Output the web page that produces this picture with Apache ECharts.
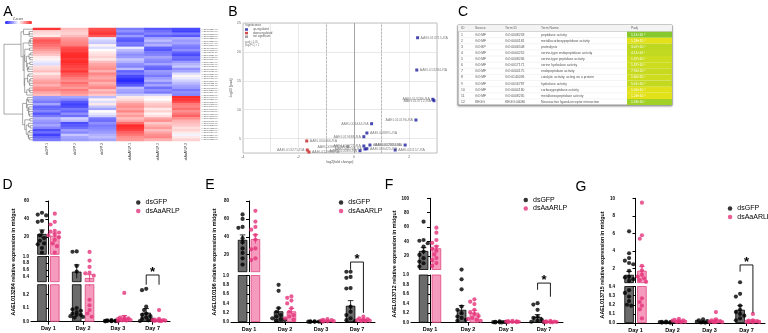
<!DOCTYPE html>
<html>
<head>
<meta charset="utf-8">
<script src="https://cdn.jsdelivr.net/npm/echarts@6/dist/echarts.min.js"></script>
<style>
  html, body { margin: 0; padding: 0; background: #fff; }
  #chart { width: 768px; height: 333px; }
</style>
</head>
<body>
<div id="chart"></div>
<script>
const FONT = '"Liberation Sans", Arial, sans-serif';

// ---------- A: heatmap of DEGs (z-scores) ----------
const heatCols = ['dsGFP-1', 'dsGFP-2', 'dsGFP-3', 'dsAaARLP-1', 'dsAaARLP-2', 'dsAaARLP-3'];
const heatGenes = [
  'AAEL013284-RA', 'AAEL010196-RA', 'AAEL013712-RA', 'AAEL013715-RA', 'AAEL013286-RA', 'AAEL002880-RA',
  'AAEL004444-RA', 'AAEL008891-RA', 'AAEL019688-RA', 'AAEL001702-RA', 'AAEL011157-RA', 'AAEL003721-RA',
  'AAEL006425-RA', 'AAEL012714-RA', 'AAEL007599-RA', 'AAEL010089-RA', 'AAEL005432-RA', 'AAEL014188-RA',
  'AAEL000931-RA', 'AAEL013627-RA', 'AAEL009524-RA', 'AAEL006161-RA', 'AAEL002610-RA', 'AAEL011332-RA',
  'AAEL004118-RA', 'AAEL015458-RA', 'AAEL008207-RA', 'AAEL003914-RA', 'AAEL012086-RA', 'AAEL000466-RA',
  'AAEL013271-RA', 'AAEL012980-RA', 'AAEL009872-RA', 'AAEL005641-RA', 'AAEL001693-RA', 'AAEL010773-RA',
  'AAEL014375-RA', 'AAEL007062-RA', 'AAEL002393-RA', 'AAEL011905-RA', 'AAEL006790-RA', 'AAEL013053-RA',
  'AAEL004855-RA', 'AAEL008516-RA', 'AAEL000174-RA', 'AAEL012347-RA', 'AAEL003368-RA', 'AAEL010537-RA'
];
const heatRows = [
  [1.8, 0.6, 1.6, -1.2, -1.5, -1.6], [0.4, 0.5, 1.7, -1.0, -1.3, -1.7], [0.3, 0.4, 1.8, -1.3, -1.1, -1.2],
  [0.2, 0.6, 1.5, -0.9, -1.4, -1.5], [1.2, 0.9, -0.2, -1.4, -0.8, -0.7], [1.5, 1.0, -0.4, -1.5, -0.6, -0.9],
  [1.4, 1.1, -0.5, -1.2, -0.9, -0.8], [1.3, 1.2, 0.1, -1.3, -0.7, -1.1], [1.1, 1.6, -0.3, -0.2, -1.4, -1.2],
  [0.9, 1.7, 0.0, -0.6, -1.5, -1.0], [0.7, 1.8, 0.2, -0.8, -1.2, -1.4], [0.5, 1.9, 0.3, -1.0, -1.1, -1.6],
  [0.2, 1.9, 0.4, -0.9, -0.8, -1.3], [0.1, 1.8, 0.2, -0.5, -1.0, -1.4], [-0.2, 1.9, 0.6, -0.7, -1.1, -0.9],
  [-0.3, 1.8, 0.8, -1.0, -0.8, -0.7], [0.3, 1.7, 0.9, -1.1, -1.3, -0.5], [0.4, 1.6, 1.0, -0.6, -1.4, -1.0],
  [0.6, 1.8, 0.7, -1.4, -0.9, -0.8], [0.2, 1.5, 1.1, -1.2, -1.0, -0.3], [0.5, 1.4, 0.9, -1.6, -1.2, 0.1],
  [0.6, 1.2, 0.8, -1.8, -0.9, -0.2], [0.8, 1.0, 1.0, -1.9, -0.7, -0.4], [0.9, 1.3, 0.7, -1.7, -1.1, -0.6],
  [0.7, 1.1, 0.9, -1.5, -0.8, -0.8], [1.0, 0.9, 1.1, -0.6, -1.3, -0.9], [1.1, 1.2, 0.6, -0.8, -1.0, -1.2],
  [0.8, 1.0, 0.8, -0.9, -1.2, -1.0], [0.6, 0.8, 0.5, -0.5, -0.4, -1.1],
  [-0.9, -0.8, -0.6, 0.2, 0.1, 1.9], [-1.0, -1.1, 0.1, 0.3, 0.0, 1.8], [-1.2, -1.5, -0.3, 0.6, 0.3, 1.6],
  [-0.8, -1.7, 0.2, 0.9, 0.5, 1.2], [-1.4, -1.6, -0.5, 1.0, 0.6, 1.1], [-1.3, -1.2, -0.8, 0.8, 0.2, 1.3],
  [-1.1, -1.4, 0.0, 1.1, 0.4, 1.0], [-1.5, -1.0, -0.2, 0.7, 0.1, 1.2], [-1.2, -1.3, -0.4, 0.9, 0.3, 1.4],
  [-0.7, -0.4, -1.2, 0.6, 0.8, 1.0], [-0.9, -0.6, -1.3, 0.8, 1.0, 0.7], [-1.0, -1.6, -1.0, 1.3, 0.5, 0.6],
  [-0.8, -1.5, -1.2, 1.9, 0.7, 0.5], [-1.1, -1.3, -1.1, 1.8, 0.9, 0.3], [-1.6, -0.9, -1.0, 1.7, 0.6, 0.4],
  [-1.3, -1.1, -0.9, 1.4, 0.8, 0.2], [-1.7, -0.5, -0.7, 1.2, 1.0, -0.1], [-1.4, -0.8, -0.6, 1.0, 1.1, 0.2],
  [-1.2, -0.9, -0.8, 0.9, 0.7, 0.4]
];

// ---------- B: volcano plot ----------
const upNames = ['AAEL013715-RA', 'AAEL013284-RA', 'AAEL013712-RA', 'AAEL013286-RA', 'AAEL010196-RA',
  'AAEL004444-RA', 'AAEL008891-RA', 'AAEL019688-RA', 'AAEL002880-RA', 'AAEL001702-RA', 'AAEL003721-RA',
  'AAEL006425-RA', 'AAEL007599-RA', 'AAEL010089-RA', 'AAEL011157-RA'];
const upX = [2.30, 2.27, 2.89, 2.85, 2.24, 0.64, 0.47, 0.36, 1.85, 0.58, 0.36, 0.47, 0.40, 0.22, 1.49];
const upY = [22.45, 16.86, 11.55, 11.8, 8.21, 7.57, 5.96, 5.32, 3.88, 3.88, 3.71, 3.24, 3.19, 2.9, 3.02];
const downNames = ['AAEL000466-RA', 'AAEL013271-RA', 'AAEL012980-RA'];
const downX = [-1.70, -1.68, -1.62];
const downY = [4.58, 3.02, 2.67];
const nsNames = ['AAEL009872-RA'];
const nsX = [-0.22];
const nsY = [3.59];

// ---------- C: enrichment table ----------
const goSources = ['GO:MF', 'GO:MF', 'GO:BP', 'GO:MF', 'GO:MF', 'GO:MF', 'GO:MF', 'GO:MF', 'GO:MF', 'GO:MF', 'GO:MF', 'KEGG'];
const goTermIds = ['GO:0008233', 'GO:0004181', 'GO:0006508', 'GO:0004252', 'GO:0008236', 'GO:0017171',
  'GO:0004175', 'GO:0140096', 'GO:0016787', 'GO:0004180', 'GO:0008235', 'KEGG:04080'];
const goTermNames = ['peptidase activity', 'metallocarboxypeptidase activity', 'proteolysis',
  'serine-type endopeptidase activity', 'serine-type peptidase activity', 'serine hydrolase activity',
  'endopeptidase activity', 'catalytic activity, acting on a protein', 'hydrolase activity',
  'carboxypeptidase activity', 'metalloexopeptidase activity', 'Neuroactive ligand-receptor interaction'];
const goPadj = [1.11e-8, 1.28e-4, 3.07e-6, 4.11e-6, 1.37e-5, 1.37e-5, 7.96e-6, 1.60e-5, 5.01e-6, 1.00e-4, 1.28e-4, 1.58e-7];

// ---------- D-G: qPCR ----------
const days = ['Day 1', 'Day 2', 'Day 3', 'Day 7'];

const dTicks = [[20, 40, 60], [0.4, 0.6, 0.8, 1.0], [0, 0.1, 0.2]];
const dGfpDots = [
  [47, 45, 44, 38, 37, 26, 22, 19, 16, 13, 12, 8, 3],
  [4.2, 3.8, 0.72, 0.55, 0.1, 0.09, 0.08, 0.07, 0.06, 0.05, 0.05, 0.04, 0.035, 0.03],
  [0.012, 0.01, 0.008, 0.007, 0.006, 0.005, 0.005, 0.004, 0.004, 0.003],
  [0.24, 0.23, 0.11, 0.085, 0.06, 0.05, 0.04, 0.03, 0.02, 0.015, 0.01, 0.005]
];
const dArlpDots = [
  [46, 37, 34, 27, 26, 25, 23, 22, 20, 17, 13, 10, 3],
  [3.6, 0.88, 0.69, 0.52, 0.5, 0.43, 0.16, 0.12, 0.085, 0.06, 0.036],
  [0.21, 0.036, 0.03, 0.025, 0.02, 0.015, 0.012, 0.01, 0.008, 0.005],
  [0.085, 0.02, 0.015, 0.012, 0.01, 0.008, 0.006, 0.005, 0.004]
];
const dGfpMean = [23.5, 0.55, 0.008, 0.066];
const dGfpSem = [4.5, 0.2, 0.002, 0.03];
const dArlpMean = [21.5, 0.36, 0.03, 0.012];
const dArlpSem = [3, 0.1, 0.015, 0.006];

const eTicks = [[20, 40, 60, 80], [0, 0.2, 0.4, 0.6, 0.8, 1.0]];
const eGfpDots = [
  [65, 60, 51, 50, 38.5, 34, 27, 22, 16, 9],
  [0.80, 0.67, 0.30, 0.22, 0.15, 0.12, 0.08, 0.06, 0.04, 0.03],
  [0.015, 0.012, 0.01, 0.008, 0.006, 0.005, 0.004],
  [0.97, 0.95, 0.73, 0.72, 0.33, 0.22, 0.15, 0.08, 0.04, 0.02]
];
const eArlpDots = [
  [69, 57, 51, 48, 42, 37, 27, 26, 16, 14],
  [0.55, 0.52, 0.46, 0.40, 0.30, 0.22, 0.15, 0.12, 0.08, 0.05],
  [0.06, 0.045, 0.04, 0.03, 0.02, 0.015, 0.01],
  [0.115, 0.08, 0.06, 0.05, 0.04, 0.03, 0.02, 0.02]
];
const eGfpMean = [36.6, 0.23, 0.01, 0.35];
const eGfpSem = [5.5, 0.07, 0.002, 0.11];
const eArlpMean = [37.4, 0.23, 0.03, 0.05];
const eArlpSem = [5, 0.06, 0.007, 0.012];

const fTicks = [[20, 40, 60, 80, 100], [0, 0.2, 0.4, 0.6, 0.8, 1.0]];
const fGfpDots = [
  [67.5, 42, 41, 37.5, 32.8, 26, 21.3, 16.7, 12, 9.7, 5],
  [0.91, 0.70, 0.34, 0.27, 0.2, 0.13, 0.1, 0.06, 0.04],
  [0.03, 0.02, 0.015, 0.01, 0.01, 0.008, 0.006, 0.005],
  [0.41, 0.38, 0.27, 0.13, 0.1, 0.06, 0.04, 0.02, 0.01]
];
const fArlpDots = [
  [59.2, 52.2, 42, 38, 33, 30, 27, 22, 17, 14, 10, 6],
  [0.49, 0.44, 0.39, 0.27, 0.22, 0.18, 0.14, 0.1, 0.08, 0.06, 0.04],
  [0.04, 0.035, 0.03, 0.025, 0.02, 0.015, 0.012, 0.01],
  [0.04, 0.03, 0.025, 0.02, 0.015, 0.012, 0.01, 0.008]
];
const fGfpMean = [26.8, 0.27, 0.013, 0.12];
const fGfpSem = [4.6, 0.09, 0.003, 0.05];
const fArlpMean = [30.5, 0.21, 0.022, 0.02];
const fArlpSem = [3.3, 0.05, 0.004, 0.004];

const gTicks = [[2, 4, 6, 8, 10], [0, 0.1, 0.2, 0.3, 0.4]];
const gGfpDots = [
  [6.24, 3.75, 3.2, 2.9, 2.64, 2.5, 1.76, 1.07, 1.0, 0.8, 0.6, 0.36, 0.33, 0.29, 0.24, 0.2, 0.19],
  [0.015, 0.012, 0.01, 0.01, 0.008, 0.006, 0.005, 0.004],
  [0.04, 0.03, 0.02, 0.015, 0.01, 0.008, 0.006, 0.005],
  [0.45, 0.32, 0.29, 0.19, 0.145, 0.12, 0.1, 0.08, 0.05, 0.03]
];
const gArlpDots = [
  [9.5, 5.8, 5.4, 2.33, 1.8, 1.3, 1.1, 0.9, 0.7, 0.5, 0.27, 0.23, 0.19, 0.15, 0.05],
  [0.045, 0.035, 0.03, 0.025, 0.02, 0.015, 0.01, 0.008],
  [0.12, 0.04, 0.03, 0.02, 0.015, 0.012, 0.01, 0.008],
  [0.1, 0.03, 0.025, 0.02, 0.015, 0.012, 0.01, 0.008]
];
const gGfpMean = [1.3, 0.009, 0.015, 0.145];
const gGfpSem = [0.38, 0.002, 0.004, 0.045];
const gArlpMean = [1.76, 0.022, 0.03, 0.025];
const gArlpSem = [0.5, 0.005, 0.012, 0.01];

// ---------------------------------------------------------------
const chart = echarts.init(document.getElementById('chart'));

const grids = [], xAxes = [], yAxes = [], series = [], legends = [], graphics = [];

function letter(t, x, y) {
  graphics.push({ type: 'text', x, y, style: { text: t, fill: '#000', font: '14px ' + FONT, align: 'center', verticalAlign: 'middle' } });
}

// neighbour-only average linkage, so the tree follows the row order
function orderedLinkage(rows) {
  let nodes = rows.map((r, i) => ({ members: [i], pos: i, h: 0 }));
  const merges = [];
  const dist = (a, b) => {
    let s = 0, n = 0;
    a.members.forEach(i => b.members.forEach(j => {
      let d = 0;
      for (let k = 0; k < rows[i].length; k++) d += (rows[i][k] - rows[j][k]) ** 2;
      s += Math.sqrt(d); n++;
    }));
    return s / n;
  };
  while (nodes.length > 1) {
    let best = 0, bd = Infinity;
    for (let i = 0; i < nodes.length - 1; i++) {
      const d = dist(nodes[i], nodes[i + 1]);
      if (d < bd) { bd = d; best = i; }
    }
    const a = nodes[best], b = nodes[best + 1];
    const h = Math.max(bd, a.h, b.h);
    merges.push([a.pos, b.pos, a.h, b.h, h]);
    nodes.splice(best, 2, { members: a.members.concat(b.members), pos: (a.pos + b.pos) / 2, h });
  }
  return merges;
}

// ---- A
grids.push({ left: 33, top: 28, width: 167, height: 113 });
xAxes.push({ type: 'category', gridIndex: 0, data: heatCols, axisLine: { show: false }, axisTick: { show: false },
  axisLabel: { rotate: 90, fontSize: 3, color: '#333', margin: 2, interval: 0 } });
yAxes.push({ type: 'category', gridIndex: 0, data: heatGenes, inverse: true, position: 'right',
  axisLine: { show: false }, axisTick: { show: false },
  axisLabel: { fontSize: 2.3, color: '#555', margin: 1, interval: 0 } });
const heatData = [];
heatRows.forEach((r, i) => r.forEach((v, j) => heatData.push([j, i, v])));
series.push({ type: 'heatmap', xAxisIndex: 0, yAxisIndex: 0, data: heatData, itemStyle: { borderWidth: 0 } });

const merges = orderedLinkage(heatRows);
const rootH = merges[merges.length - 1][4];
grids.push({ left: 4, top: 28, width: 29, height: 113 });
xAxes.push({ type: 'value', gridIndex: 1, min: 0, max: rootH, inverse: true, show: false });
yAxes.push({ type: 'value', gridIndex: 1, min: -0.5, max: heatRows.length - 0.5, inverse: true, show: false });
series.push({
  type: 'custom', xAxisIndex: 1, yAxisIndex: 1, data: merges, silent: true,
  renderItem(params, api) {
    const a = api.coord([api.value(2), api.value(0)]);
    const a2 = api.coord([api.value(4), api.value(0)]);
    const b2 = api.coord([api.value(4), api.value(1)]);
    const b = api.coord([api.value(3), api.value(1)]);
    return { type: 'polyline', shape: { points: [a, a2, b2, b] }, style: { stroke: '#555', lineWidth: 0.5, fill: null } };
  }
});
letter('A', 8, 12);
graphics.push({ type: 'text', x: 18, y: 19, style: { text: 'Z-score', font: '3px ' + FONT, fill: '#444', align: 'center', verticalAlign: 'middle' } });

// ---- B
grids.push({ left: 243, top: 23, width: 194, height: 130, show: true, borderColor: '#999', borderWidth: 0.6 });
xAxes.push({ type: 'value', gridIndex: 2, min: -4, max: 3, interval: 1, name: 'log2(fold change)', nameLocation: 'middle', nameGap: 6,
  nameTextStyle: { fontSize: 3.5, color: '#555' },
  axisLine: { show: false }, axisTick: { show: false },
  axisLabel: { fontSize: 3.5, color: '#666', margin: 2, formatter: v => (v % 2 === 0 ? String(v) : '') },
  splitLine: { lineStyle: { color: '#d8d8d8', width: 0.6 } } });
yAxes.push({ type: 'value', gridIndex: 2, min: 2.5, max: 25, splitNumber: 5, name: '-log10 (padj)', nameLocation: 'middle', nameGap: 8,
  nameTextStyle: { fontSize: 3.5, color: '#555' },
  axisLine: { show: false }, axisTick: { show: false },
  axisLabel: { fontSize: 3.5, color: '#666', margin: 2, showMinLabel: false },
  splitLine: { lineStyle: { color: '#d8d8d8', width: 0.6 } } });
const upSide = ['right', 'right', 'left', 'left', 'left', 'left', 'right', 'left', 'left', 'right', 'left', 'right', 'left', 'left', 'right'];
const downSide = ['right', 'left', 'right'];
function volcanoSeries(name, names, xs, ys, sides, color, extra) {
  return Object.assign({
    type: 'scatter', name, xAxisIndex: 2, yAxisIndex: 2, symbol: 'rect', symbolSize: 3,
    itemStyle: { color },
    data: names.map((n, i) => ({ name: n, value: [xs[i], ys[i]], label: { position: sides[i] } })),
    label: { show: true, formatter: '{b}', fontSize: 3.6, color: '#666', distance: 1.5 }
  }, extra || {});
}
series.push(volcanoSeries('up-regulated', upNames, upX, upY, upSide, '#1c1c9c', {
  markLine: { silent: true, symbol: 'none', label: { show: false },
    data: [{ xAxis: -1, lineStyle: { type: 'dashed', color: '#999', width: 0.6 } },
           { xAxis: 1, lineStyle: { type: 'dashed', color: '#999', width: 0.6 } },
           { xAxis: 0, lineStyle: { type: 'solid', color: '#888', width: 0.7 } }] }
}));
series.push(volcanoSeries('down-regulated', downNames, downX, downY, downSide, '#c42020'));
series.push(volcanoSeries('not significant', nsNames, nsX, nsY, ['left'], '#888888'));
legends.push({ left: 245, top: 28, orient: 'vertical', itemWidth: 3, itemHeight: 2.5, itemGap: 0.6, padding: 0,
  selectedMode: false, data: ['up-regulated', 'down-regulated', 'not significant'],
  textStyle: { fontSize: 2.8, color: '#555', fontFamily: FONT } });
graphics.push({ type: 'text', x: 245, y: 25.5, style: { text: 'Significance', font: '3px ' + FONT, fill: '#555', verticalAlign: 'middle' } });
graphics.push({ type: 'text', x: 245, y: 44, style: { text: 'padj < 0.05\n|log2FC| > 1', font: '2.6px ' + FONT, fill: '#777', verticalAlign: 'middle', lineHeight: 3 } });
letter('B', 233, 12);

// ---- C
(function table() {
  const tX = 458, tY = 25, tW = 214, headH = 6.5, rowH = 6.125;
  const colX = [461, 475, 505, 541];
  const padjX = 627;
  const kids = [];
  kids.push({ type: 'rect', shape: { x: tX, y: tY, width: tW, height: headH + rowH * goTermIds.length },
    style: { fill: '#fff', stroke: '#8a8a8a', lineWidth: 0.8, shadowBlur: 2, shadowColor: 'rgba(0,0,0,0.35)', shadowOffsetY: 1 } });
  kids.push({ type: 'rect', shape: { x: tX, y: tY, width: tW, height: headH }, style: { fill: '#f3f3f3' } });
  ['ID', 'Source', 'Term ID', 'Term Name'].forEach((t, k) => kids.push({ type: 'text', x: colX[k], y: tY + headH / 2,
    style: { text: t, font: '3.4px ' + FONT, fill: '#666', verticalAlign: 'middle' } }));
  kids.push({ type: 'text', x: padjX + 4, y: tY + headH / 2, style: { text: 'Padj', font: '3.4px ' + FONT, fill: '#666', verticalAlign: 'middle' } });
  const sup = s => s.replace(/[-0-9]/g, c => ({ '-': '\u207b', '0': '\u2070', '1': '\u00b9', '2': '\u00b2', '3': '\u00b3', '4': '\u2074',
    '5': '\u2075', '6': '\u2076', '7': '\u2077', '8': '\u2078', '9': '\u2079' })[c]);
  const mix = (a, b, t) => {
    const pa = [1, 3, 5].map(i => parseInt(a.substr(i, 2), 16)), pb = [1, 3, 5].map(i => parseInt(b.substr(i, 2), 16));
    return 'rgb(' + pa.map((v, i) => Math.round(v + (pb[i] - v) * t)).join(',') + ')';
  };
  goTermIds.forEach((id, i) => {
    const y = tY + headH + i * rowH;
    const lp = -Math.log10(goPadj[i]);
    const t = Math.min(1, Math.max(0, (lp - 3.8) / 4.2));
    kids.push({ type: 'rect', shape: { x: padjX, y, width: tX + tW - padjX, height: rowH }, style: { fill: mix('#e4e21a', '#86c92c', t) } });
    kids.push({ type: 'line', shape: { x1: tX, y1: y, x2: padjX, y2: y }, style: { stroke: '#e2e2e2', lineWidth: 0.4 } });
    const cells = [String(i + 1), goSources[i], id, goTermNames[i]];
    cells.forEach((c, k) => kids.push({ type: 'text', x: colX[k], y: y + rowH / 2,
      style: { text: c, font: '3.4px ' + FONT, fill: '#555', verticalAlign: 'middle' } }));
    const [m, e] = goPadj[i].toExponential(2).split('e');
    kids.push({ type: 'text', x: padjX + 4, y: y + rowH / 2,
      style: { text: m + '\u00d710' + sup(String(parseInt(e, 10))), font: '3.4px ' + FONT, fill: '#fff', verticalAlign: 'middle' } });
  });
  kids.push({ type: 'line', shape: { x1: tX, y1: tY + headH, x2: tX + tW, y2: tY + headH }, style: { stroke: '#bbb', lineWidth: 0.5 } });
  graphics.push({ type: 'group', children: kids });
})();
letter('C', 463, 12);

// ---- D-G
const BAR_W = 9.5;
const GFP_BAR = '#6b6b6b', ARLP_BAR = '#f59bbd', GFP_DOT = '#000', ARLP_DOT = '#e5337b';

function segPixel(v, segs) {
  for (let k = segs.length - 1; k >= 0; k--) {
    const s = segs[k];
    if (v >= s.min && v <= s.max) return s.bottom - (v - s.min) / (s.max - s.min) * (s.bottom - s.top);
  }
  const s = segs[0];
  return s.bottom - (v - s.min) / (s.max - s.min) * (s.bottom - s.top);
}

// simple beeswarm in pixel space so dots of close value spread sideways
function swarm(dotsByDay, segs, catW, groupOff) {
  const out = [];
  dotsByDay.forEach((vals, d) => {
    const placed = [];
    const order = vals.map((v, i) => i).sort((a, b) => vals[b] - vals[a]);
    order.forEach(i => {
      const py = segPixel(vals[i], segs);
      let best = 0, bestHit = Infinity;
      for (const k of [0, -1, 1, -2, 2, -3, 3]) {
        const px = k * 2.1;
        let hit = 0;
        placed.forEach(q => { const dd = Math.hypot(q[0] - px, q[1] - py); if (dd < 4) hit += 4 - dd; });
        if (hit < bestHit) { bestHit = hit; best = px; }
        if (hit === 0) break;
      }
      placed.push([best, py]);
      out.push([d + groupOff + best / catW, vals[i]]);
    });
  });
  return out;
}

function errSeries(xi, yi, seg, means, sems, off, color) {
  // only the bars whose error bar reaches into this segment
  const data = [];
  means.forEach((m, i) => { if (m + sems[i] > seg.min && m - sems[i] < seg.max) data.push([i + off, m, sems[i]]); });
  return {
    type: 'custom', xAxisIndex: xi, yAxisIndex: yi, clip: true, silent: true, z: 4, data,
    renderItem(params, api) {
      const x = api.value(0), m = api.value(1), e = api.value(2);
      const top = api.coord([x, Math.min(m + e, seg.max)]), bot = api.coord([x, Math.max(seg.min, m - e)]);
      const st = { stroke: color, lineWidth: 0.8 };
      const kids = [{ type: 'line', shape: { x1: top[0], y1: top[1], x2: bot[0], y2: bot[1] }, style: st }];
      if (m + e <= seg.max) kids.push({ type: 'line', shape: { x1: top[0] - 2.8, y1: top[1], x2: top[0] + 2.8, y2: top[1] }, style: st });
      return { type: 'group', children: kids };
    }
  };
}

function buildPanel(L, gene, ticks, gfpDots, arlpDots, gfpMean, gfpSem, arlpMean, arlpSem) {
  const catW = L.width / 4;
  const off = (BAR_W * 1.35) / 2 / catW;
  const gfpPts = swarm(gfpDots, L.segs, catW, -off);
  const arlpPts = swarm(arlpDots, L.segs, catW, off);
  L.segs.forEach((s, k) => {
    const last = k === L.segs.length - 1;
    const gi = grids.length;
    grids.push({ left: L.left, top: s.top, width: L.width, height: s.bottom - s.top });
    const cx = xAxes.length;
    xAxes.push({ type: 'category', gridIndex: gi, data: days,
      axisLine: { show: last, lineStyle: { color: '#000', width: 1 } },
      axisTick: { show: last, alignWithLabel: true, length: 3, lineStyle: { color: '#000', width: 1 } },
      axisLabel: { show: last, fontSize: 5.5, fontWeight: 'bold', color: '#000', margin: 4, fontFamily: FONT },
      splitLine: { show: false } });
    const vx = xAxes.length;
    xAxes.push({ type: 'value', gridIndex: gi, min: -0.5, max: 3.5, show: false });
    const yi = yAxes.length;
    const fmt = v => (k === 0 ? String(v) : v.toFixed(1));
    yAxes.push({ type: 'value', gridIndex: gi, min: s.min, max: s.max,
      axisLine: { show: true, lineStyle: { color: '#000', width: 1 } },
      axisTick: { show: true, length: 3, customValues: ticks[k], lineStyle: { color: '#000', width: 1 } },
      axisLabel: { customValues: ticks[k], formatter: fmt, fontSize: 4.5, fontWeight: 'bold', color: '#000', margin: 2, fontFamily: FONT },
      splitLine: { show: false } });
    // a bar that ends below this segment is not drawn here at all
    const inSeg = arr => arr.map(v => (v > s.min ? v : '-'));
    series.push({ type: 'bar', name: 'dsGFP mean', xAxisIndex: cx, yAxisIndex: yi, data: inSeg(gfpMean), barWidth: BAR_W, barGap: '35%',
      clip: true, silent: true, z: 1, itemStyle: { color: GFP_BAR, borderColor: '#000', borderWidth: 0.8 } });
    series.push({ type: 'bar', name: 'dsAaARLP mean', xAxisIndex: cx, yAxisIndex: yi, data: inSeg(arlpMean), barWidth: BAR_W, barGap: '35%',
      clip: true, silent: true, z: 1, itemStyle: { color: ARLP_BAR, borderColor: '#e0457f', borderWidth: 0.8 } });
    series.push(errSeries(vx, yi, s, gfpMean, gfpSem, -off, '#000'));
    series.push(errSeries(vx, yi, s, arlpMean, arlpSem, off, ARLP_DOT));
    series.push({ type: 'scatter', name: 'dsGFP', xAxisIndex: vx, yAxisIndex: yi, data: gfpPts, symbolSize: 4.2,
      clip: true, silent: true, z: 5, itemStyle: { color: GFP_DOT } });
    series.push({ type: 'scatter', name: 'dsAaARLP', xAxisIndex: vx, yAxisIndex: yi, data: arlpPts, symbolSize: 4.2,
      clip: true, silent: true, z: 5, itemStyle: { color: ARLP_DOT } });
    if (L.bracket.seg === k) {
      const b = L.bracket;
      series.push({
        type: 'custom', xAxisIndex: vx, yAxisIndex: yi, silent: true, z: 6,
        data: [[3 - off, 3 + off, b.top, b.left, b.right]],
        renderItem(params, api) {
          const p1 = api.coord([api.value(0), api.value(3)]), p2 = api.coord([api.value(0), api.value(2)]);
          const p3 = api.coord([api.value(1), api.value(2)]), p4 = api.coord([api.value(1), api.value(4)]);
          return { type: 'group', children: [
            { type: 'polyline', shape: { points: [p1, p2, p3, p4] }, style: { stroke: '#000', lineWidth: 0.9, fill: null } },
            { type: 'text', x: (p2[0] + p3[0]) / 2, y: p2[1] - 3,
              style: { text: '*', font: 'bold 13px ' + FONT, fill: '#000', align: 'center', verticalAlign: 'middle' } }
          ] };
        }
      });
    }
  });
  letter(L.letter, L.lx, L.ly);
  graphics.push({ type: 'text', x: L.titleX, y: L.titleY, rotation: Math.PI / 2,
    style: { text: gene + ' relative expression in midgut', font: 'bold 5.3px ' + FONT, fill: '#000', align: 'center', verticalAlign: 'middle' } });
  legends.push({ left: L.legendX, top: L.legendY, orient: 'vertical', icon: 'circle', itemWidth: 4.5, itemHeight: 4.5, itemGap: 1.5,
    padding: 0, selectedMode: false, data: ['dsGFP', 'dsAaARLP'], textStyle: { fontSize: 7, color: '#000', fontFamily: FONT } });
}

const panelLayout = [
  { letter: 'D', lx: 7.5, ly: 185, left: 31, width: 139, titleX: 14, titleY: 262, legendX: 136, legendY: 199,
    segs: [{ top: 201, bottom: 254.3, min: 1, max: 60 }, { top: 256.5, bottom: 281.7, min: 0.25, max: 1 }, { top: 284.7, bottom: 321.7, min: 0, max: 0.27 }],
    bracket: { seg: 1, top: 0.45, left: 0.16, right: 0.16 } },
  { letter: 'E', lx: 210, ly: 185, left: 231, width: 144, titleX: 215, titleY: 262, legendX: 338.8, legendY: 199,
    segs: [{ top: 201, bottom: 271.7, min: 1, max: 80 }, { top: 275.5, bottom: 322, min: 0, max: 1 }],
    bracket: { seg: 0, top: 11.8, left: 3.2, right: -45 } },
  { letter: 'F', lx: 389, ly: 185, left: 411, width: 152, titleX: 395, titleY: 264, legendX: 523.5, legendY: 196.5,
    segs: [{ top: 198.3, bottom: 269.5, min: 1, max: 100 }, { top: 275, bottom: 322.7, min: 0, max: 1 }],
    bracket: { seg: 1, top: 0.83, left: 0.69, right: 0.545 } },
  { letter: 'G', lx: 581, ly: 187, left: 617, width: 148, titleX: 603, titleY: 265, legendX: 727.8, legendY: 205,
    segs: [{ top: 198.3, bottom: 282.7, min: 0.4, max: 10 }, { top: 286.5, bottom: 323.3, min: 0, max: 0.4 }],
    bracket: { seg: 0, top: 2.42, left: 1.65, right: -3.0 } }
];

buildPanel(panelLayout[0], 'AAEL013284', dTicks, dGfpDots, dArlpDots, dGfpMean, dGfpSem, dArlpMean, dArlpSem);
buildPanel(panelLayout[1], 'AAEL010196', eTicks, eGfpDots, eArlpDots, eGfpMean, eGfpSem, eArlpMean, eArlpSem);
buildPanel(panelLayout[2], 'AAEL013712', fTicks, fGfpDots, fArlpDots, fGfpMean, fGfpSem, fArlpMean, fArlpSem);
buildPanel(panelLayout[3], 'AAEL013715', gTicks, gGfpDots, gArlpDots, gGfpMean, gGfpSem, gArlpMean, gArlpSem);

chart.setOption({
  animation: false,
  backgroundColor: '#fff',
  textStyle: { fontFamily: FONT },
  grid: grids,
  xAxis: xAxes,
  yAxis: yAxes,
  legend: legends,
  visualMap: [{
    type: 'continuous', seriesIndex: 0, min: -2, max: 2, orient: 'horizontal', left: 5, top: 21,
    itemWidth: 3, itemHeight: 27, calculable: false, text: null, padding: 0,
    inRange: { color: ['#1f1fff', '#ffffff', '#ff1f1f'] }, textStyle: { fontSize: 3 }
  }],
  graphic: { elements: graphics },
  series
});
</script>
</body>
</html>
